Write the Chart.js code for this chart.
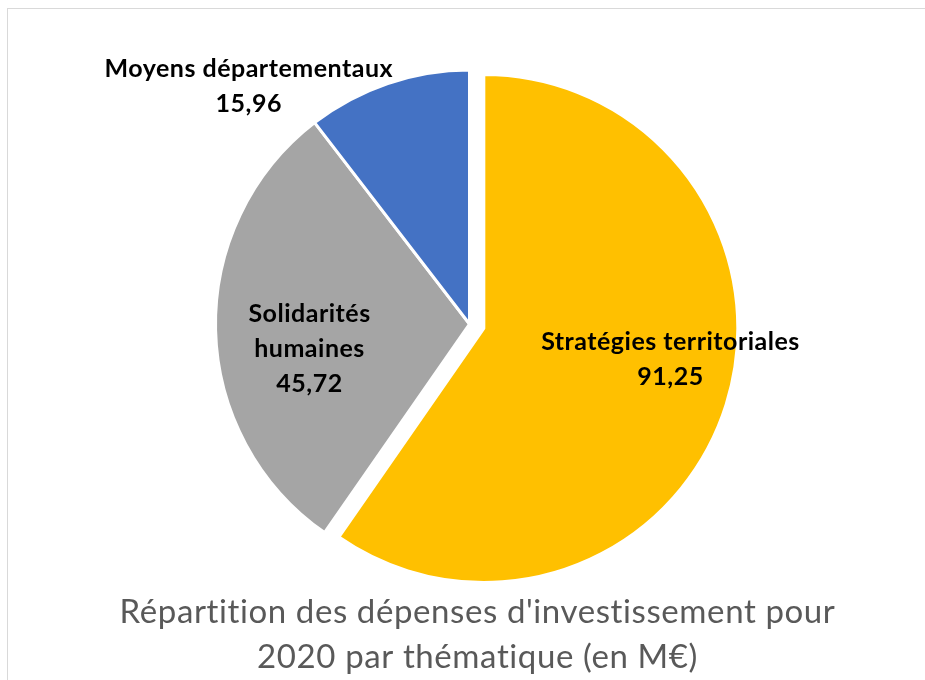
<!DOCTYPE html>
<html>
<head>
<meta charset="utf-8">
<script src="https://cdn.jsdelivr.net/npm/chart.js@4/dist/chart.umd.min.js"></script>
<style>
  html, body { margin: 0; padding: 0; background: #ffffff; }
  #wrap { position: relative; width: 925px; height: 680px; overflow: hidden; }
  #frame { position: absolute; left: 7px; top: 8px; width: 1000px; height: 1000px; border: 1px solid #d9d9d9; box-sizing: border-box; }
  #c { position: absolute; left: 0; top: 0; }
</style>
</head>
<body>
<div id="wrap">
  <div id="frame"></div>
  <canvas id="c" width="925" height="680"></canvas>
</div>
<script>
const categories = ['Stratégies territoriales', 'Solidarités humaines', 'Moyens départementaux'];
const labelLines = [['Stratégies territoriales'], ['Solidarités', 'humaines'], ['Moyens départementaux']];
const values = [91.25, 45.72, 15.96];
const valueLabels = ['91,25', '45,72', '15,96'];
const colors = ['#FFC000', '#A5A5A5', '#4472C4'];
const titleLines = ["Répartition des dépenses d'investissement pour", '2020 par thématique (en M€)'];

// Exploded slice: the arc is drawn by Chart.js and shifted along its mid angle
const explodePlugin = {
  id: 'explode',
  afterUpdate(chart, args, opts) {
    const meta = chart.getDatasetMeta(0);
    meta.data.forEach((el, i) => {
      const d = opts.distance[i] || 0;
      if (!d || el._exploded) return;
      const orig = el.draw;
      el.draw = function (ctx, area) {
        const mid = (this.startAngle + this.endAngle) / 2;
        ctx.save();
        ctx.translate(Math.cos(mid) * d, Math.sin(mid) * d);
        orig.call(this, ctx, area);
        ctx.restore();
      };
      el._exploded = true;
    });
  }
};

const sliceLabels = {
  id: 'sliceLabels',
  afterDatasetsDraw(chart, args, opts) {
    const ctx = chart.ctx;
    const meta = chart.getDatasetMeta(0);
    const dist = chart.options.plugins.explode.distance;
    meta.data.forEach((arc, i) => {
      const p = arc.getProps(['x', 'y', 'startAngle', 'endAngle', 'outerRadius'], true);
      const mid = (p.startAngle + p.endAngle) / 2;
      const off = dist[i] || 0;
      const cfg = opts.place[i];
      const r = p.outerRadius * cfg.ratio;
      const cx = p.x + Math.cos(mid) * (r + off) + cfg.dx;
      const cy = p.y + Math.sin(mid) * (r + off) + cfg.dy;
      const lines = labelLines[i].concat([valueLabels[i]]);
      ctx.save();
      ctx.font = opts.font;
      ctx.letterSpacing = opts.letterSpacing;
      ctx.fillStyle = opts.color;
      ctx.textAlign = 'center';
      ctx.textBaseline = 'middle';
      const lh = opts.lineHeight;
      const startY = cy - (lines.length - 1) * lh / 2;
      lines.forEach((t, k) => ctx.fillText(t, cx, startY + k * lh));
      ctx.restore();
    });
  }
};

const bottomTitle = {
  id: 'bottomTitle',
  afterDraw(chart, args, opts) {
    const ctx = chart.ctx;
    ctx.save();
    ctx.font = opts.font;
    ctx.letterSpacing = opts.letterSpacing;
    ctx.fillStyle = opts.color;
    ctx.textAlign = 'center';
    ctx.textBaseline = 'middle';
    const x = chart.width / 2 + opts.shiftX;
    titleLines.forEach((t, k) => ctx.fillText(t, x, opts.firstLineY + k * opts.lineHeight));
    ctx.restore();
  }
};

new Chart(document.getElementById('c'), {
  type: 'pie',
  data: {
    labels: categories,
    datasets: [{
      data: values,
      backgroundColor: colors,
      borderColor: '#ffffff',
      borderWidth: 3,
      clip: false
    }]
  },
  options: {
    responsive: false,
    animation: false,
    devicePixelRatio: 1,
    layout: { padding: { top: 68.5, left: 14, right: 0, bottom: 100.5 } },
    plugins: {
      legend: { display: false },
      tooltip: { enabled: false },
      title: { display: false },
      explode: { distance: [15, 0, 0] },
      sliceLabels: {
        font: 'bold 25px Lato, "Open Sans", sans-serif',
        letterSpacing: '0.5px',
        color: '#000000',
        lineHeight: 35,
        place: [
          { ratio: 0.7, dx: 17, dy: -22 },
          { ratio: 0.63, dx: 0, dy: 21 },
          { ratio: 0.95, dx: -143, dy: -9 }
        ]
      },
      bottomTitle: {
        font: '33px Lato, "Open Sans", sans-serif',
        letterSpacing: '0.6px',
        color: '#595959',
        firstLineY: 612,
        lineHeight: 45,
        shiftX: 15
      }
    }
  },
  plugins: [explodePlugin, sliceLabels, bottomTitle]
});
</script>
</body>
</html>
